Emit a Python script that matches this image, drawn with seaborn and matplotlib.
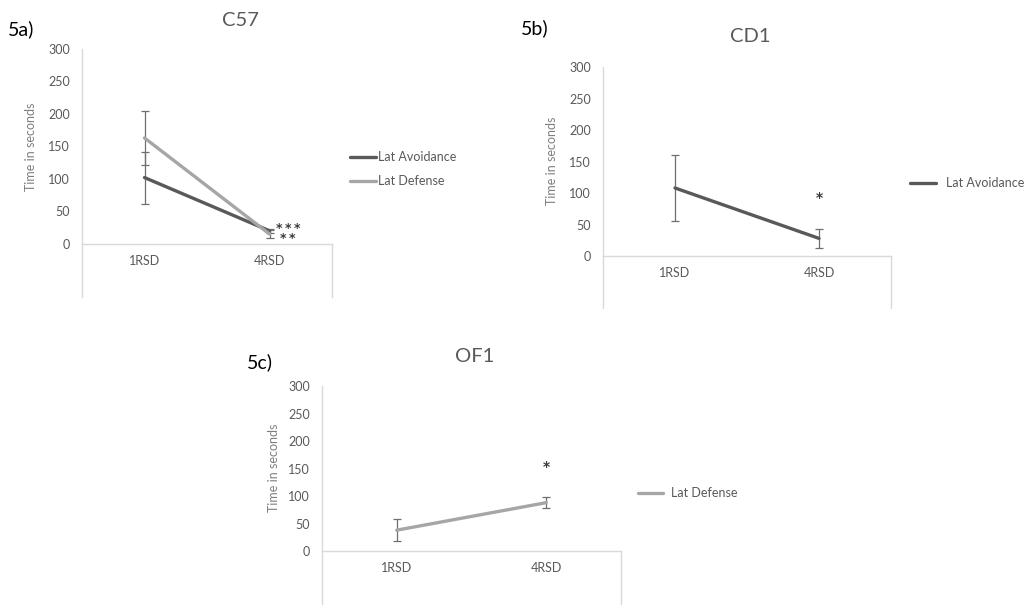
import numpy as np
import pandas as pd
import matplotlib
matplotlib.use("Agg")
import matplotlib.pyplot as plt
import seaborn as sns

# Latency data (seconds), mean and error per test day
groups = ["1RSD", "4RSD"]

c57_avoid = [102, 20]
c57_avoid_err = [40, 3]
c57_defense = [163, 15]
c57_defense_err = [41, 6]

cd1_avoid = [108, 28]
cd1_avoid_err = [52, 15]

of1_defense = [38, 88]
of1_defense_err = [20, 10]

yticks = [0, 50, 100, 150, 200, 250, 300]

sns.set_theme(style="white")
plt.rcParams["font.family"] = ["Lato", "DejaVu Sans"]

DARK = "#595959"
LIGHT = "#a6a6a6"
FRAME = "#d9d9d9"
TEXT = "#595959"
STAR = "#3a3a3a"

W, H = 1036, 605
fig = plt.figure(figsize=(W / 100, H / 100), dpi=100)


def make_axes(left, right, top_px, bottom_px):
    return fig.add_axes([left / W, 1 - bottom_px / H, (right - left) / W,
                         (bottom_px - top_px) / H])


def draw_panel(ax, series, ymin, ylabel_xy):
    frames = []
    for name, vals, err, color in series:
        frames.append(pd.DataFrame({"group": groups, "time": vals,
                                    "measure": name}))
    df = pd.concat(frames, ignore_index=True)
    palette = {name: color for name, _, _, color in series}
    sns.lineplot(data=df, x="group", y="time", hue="measure",
                 palette=palette, sort=False, linewidth=2.4, ax=ax,
                 legend=False, errorbar=None)
    pos = np.arange(len(groups))
    for name, vals, err, color in series:
        ax.errorbar(pos, vals, yerr=err, fmt="none", ecolor="#6f6f6f",
                    elinewidth=0.9, capsize=2.6, capthick=0.9, zorder=1)
    ax.set_xlim(-0.5, len(groups) - 0.5)
    ax.set_ylim(ymin, 300)
    ax.set_yticks(yticks)
    ax.set_xticks(pos)
    ax.set_xticklabels(groups)
    ax.tick_params(axis="both", length=0, labelsize=9, colors=TEXT)
    ax.tick_params(axis="x", pad=8)
    ax.tick_params(axis="y", pad=8.5)
    ax.set_xlabel("")
    ax.set_ylabel("Time in seconds", fontsize=9, color="#7f7f7f")
    ax.yaxis.set_label_coords(*ylabel_xy)
    for s in ["left", "bottom", "right"]:
        ax.spines[s].set_color(FRAME)
        ax.spines[s].set_linewidth(1.0)
    ax.spines["top"].set_visible(False)
    ax.spines["bottom"].set_position(("data", 0))
    ax.spines["right"].set_bounds(ymin, 0)
    ax.set_facecolor("none")
    handles = [plt.Line2D([], [], color=c, linewidth=2.4)
               for _, _, _, c in series]
    labels = [n for n, _, _, _ in series]
    return handles, labels


def star(ax, x, y, s, size=10):
    ax.text(x, y, s, ha="center", va="center", multialignment="center",
            fontsize=size, fontweight="bold", color=STAR,
            family="DejaVu Sans", linespacing=0.75)


# Panel a: C57
ax_a = make_axes(82, 332, 49, 297)
h, l = draw_panel(ax_a, [("Lat Avoidance", c57_avoid, c57_avoid_err, DARK),
                         ("Lat Defense", c57_defense, c57_defense_err, LIGHT)],
                  -82, (-0.18, 0.607))
star(ax_a, 1.15, 16, "*\u2009*\u2009*\n*\u2009*", size=9)
fig.legend(h, l, loc="center left", bbox_to_anchor=(350 / W, 1 - 169 / H),
           frameon=False, fontsize=9, handlelength=2.1, handletextpad=0.1,
           labelspacing=0.95, borderpad=0, borderaxespad=0,
           labelcolor=TEXT)
fig.text(240 / W, 1 - 20 / H, "C57", ha="center", va="center",
         fontsize=14.5, color=TEXT)
fig.text(8 / W, 1 - 29 / H, "5a)", ha="left", va="center", fontsize=14,
         color="black")

# Panel b: CD1
ax_b = make_axes(603, 891, 67, 308)
h, l = draw_panel(ax_b, [("Lat Avoidance", cd1_avoid, cd1_avoid_err, DARK)],
                  -82.5, (-0.156, 0.61))
star(ax_b, 1, 92, "*")
fig.legend(h, l, loc="center left", bbox_to_anchor=(910 / W, 1 - 183 / H),
           frameon=False, fontsize=9, handlelength=2.1, handletextpad=0.75,
           borderpad=0, borderaxespad=0, labelcolor=TEXT)
fig.text(750 / W, 1 - 37 / H, "CD1", ha="center", va="center",
         fontsize=14.5, color=TEXT)
fig.text(521 / W, 1 - 28 / H, "5b)", ha="left", va="center", fontsize=14,
         color="black")

# Panel c: OF1
ax_c = make_axes(322, 621, 386, 605)
h, l = draw_panel(ax_c, [("Lat Defense", of1_defense, of1_defense_err, LIGHT)],
                  -98, (-0.14, 0.626))
star(ax_c, 1, 152, "*")
fig.legend(h, l, loc="center left", bbox_to_anchor=(638 / W, 1 - 493 / H),
           frameon=False, fontsize=9, handlelength=2.0, handletextpad=0.65,
           borderpad=0, borderaxespad=0, labelcolor=TEXT)
fig.text(475 / W, 1 - 357 / H, "OF1", ha="center", va="center",
         fontsize=14.5, color=TEXT)
fig.text(247 / W, 1 - 362 / H, "5c)", ha="left", va="center", fontsize=14,
         color="black")

fig.savefig("out.png", dpi=100, facecolor="white")
